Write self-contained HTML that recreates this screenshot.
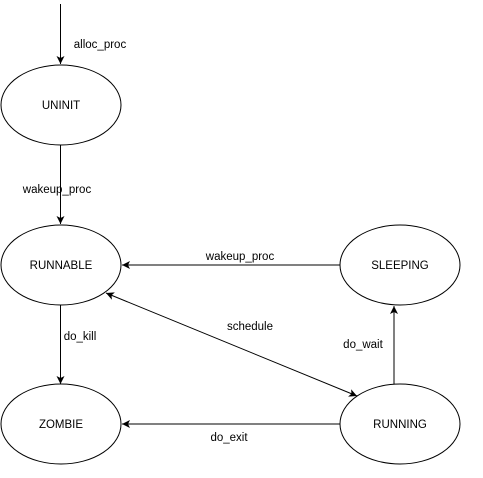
<!DOCTYPE html>
<html><head><style>body{margin:0;background:#fff}</style></head><body>
<svg width="483" height="473" xmlns="http://www.w3.org/2000/svg" font-family="Liberation Sans, Arial, sans-serif" font-size="11.5">
<defs><marker id="a" markerWidth="10" markerHeight="10" refX="8" refY="5" orient="auto-start-reverse" markerUnits="userSpaceOnUse"><path d="M0,1 L8,5 L0,9 L2,5 Z" fill="#000"/></marker></defs>
<g fill="none" stroke="#000" stroke-width="1">
<ellipse cx="61" cy="105" rx="60" ry="40"/>
<ellipse cx="61" cy="265" rx="60" ry="40"/>
<ellipse cx="61" cy="424" rx="60" ry="40"/>
<ellipse cx="400" cy="265" rx="60" ry="40"/>
<ellipse cx="400" cy="424" rx="60" ry="40"/>
<line x1="60.5" y1="4" x2="60.5" y2="64" marker-end="url(#a)"/>
<line x1="60.5" y1="145" x2="60.5" y2="224" marker-end="url(#a)"/>
<line x1="340" y1="265" x2="122" y2="265" marker-end="url(#a)"/>
<line x1="60.5" y1="305" x2="60.5" y2="384" marker-end="url(#a)"/>
<line x1="340" y1="424" x2="122" y2="424" marker-end="url(#a)"/>
<line x1="394" y1="384" x2="394" y2="306" marker-end="url(#a)"/>
<line x1="106" y1="293" x2="357" y2="396" marker-start="url(#a)" marker-end="url(#a)"/>
</g>
<g fill="#000" text-anchor="middle">
<text x="61" y="109">UNINIT</text>
<text x="61" y="269">RUNNABLE</text>
<text x="61" y="428">ZOMBIE</text>
<text x="400" y="269">SLEEPING</text>
<text x="400" y="428">RUNNING</text>
<text x="100" y="48">alloc_proc</text>
<text x="57" y="193">wakeup_proc</text>
<text x="240" y="260">wakeup_proc</text>
<text x="250" y="330">schedule</text>
<text x="80" y="340">do_kill</text>
<text x="229" y="441">do_exit</text>
<text x="363" y="348">do_wait</text>
</g>
</svg>
</body></html>
